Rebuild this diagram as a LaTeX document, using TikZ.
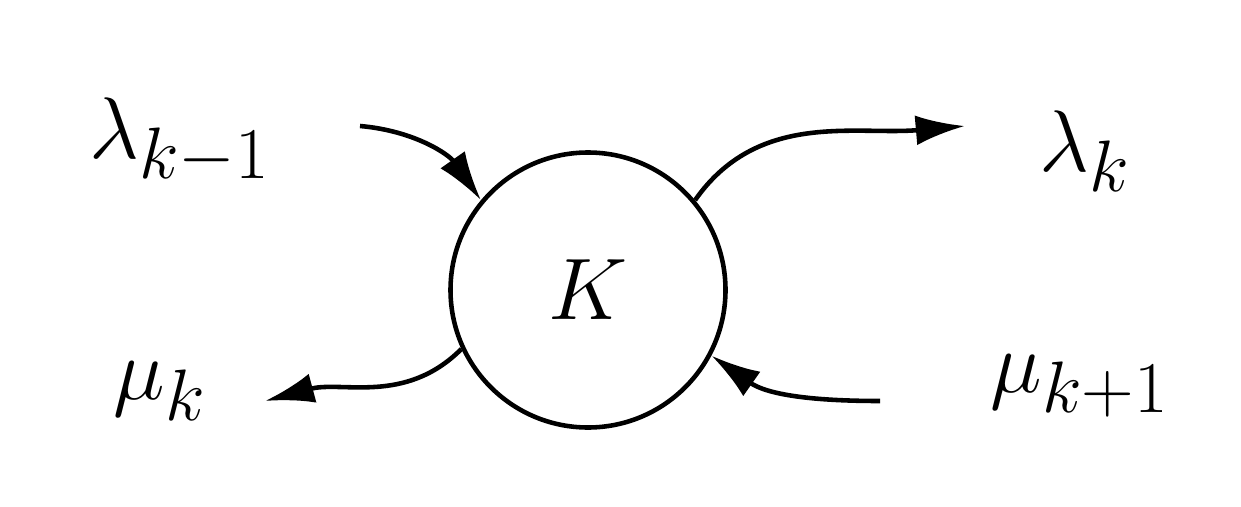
\documentclass[tikz,border=0pt]{standalone}
\usetikzlibrary{arrows.meta}
\newcommand{\biglab}[1]{\scalebox{2}{\Huge$#1$}}
\begin{document}
\begin{tikzpicture}[line width=2.6pt,
    flow/.style={-{Latex[length=28pt,width=17pt]}}]
        \useasboundingbox (0,0) rectangle (24.82,10.12);
        \node[circle,draw,minimum size=5.5cm] (state) at (11.76,4.32) {\biglab{K}};
        \node (lamin) at (3.6,7.3) {\biglab{\lambda_{k-1}}};
        \node (lamout) at (21.7,7.1) {\biglab{\lambda_k}};
        \node (muout) at (3.2,2.3) {\biglab{\mu_k}};
        \node (muin) at (21.6,2.4) {\biglab{\mu_{k+1}}};
        \coordinate (a) at (7.2,7.6);
        \coordinate (b) at (19.3,7.6);
        \coordinate (c) at (5.3,2.1);
        \coordinate (d) at (17.6,2.1);
        \draw[flow] (a) to[out=-5,in=125] (state.140);
        \draw[flow] (state.40) to[out=55,in=185] (b);
        \draw[flow] (state.205) to[out=225,in=15] (c);
        \draw[flow] (d) to[out=180,in=-35] (state.-28);
\end{tikzpicture}
\end{document}
